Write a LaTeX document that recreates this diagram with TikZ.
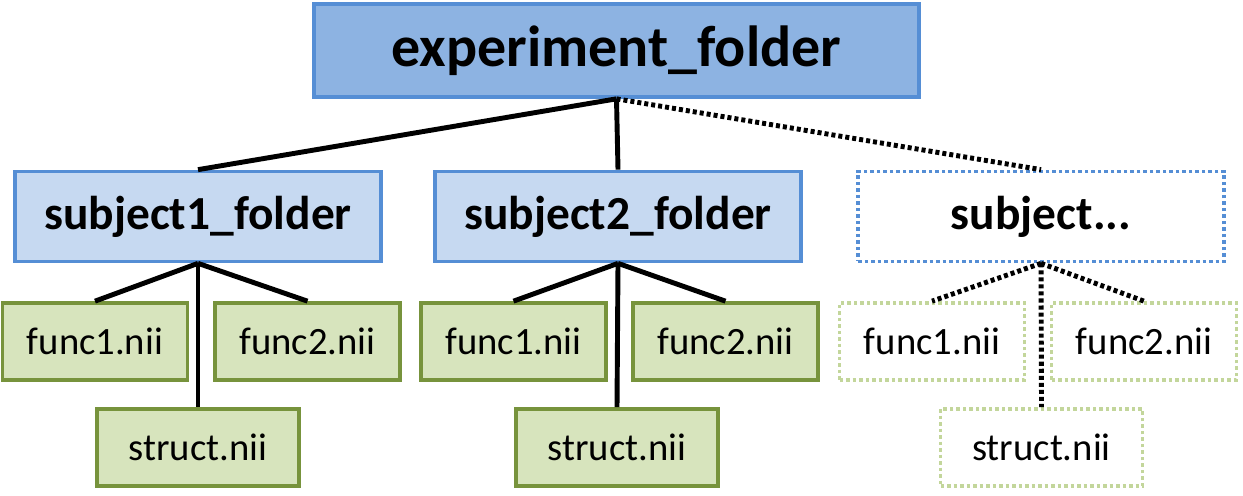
\documentclass[tikz,border=0pt]{standalone}
\usepackage{fontspec}
\setmainfont{Carlito}
\usepackage{tikz}

\definecolor{azulfuerte}{HTML}{8DB3E2}
\definecolor{azulclaro}{HTML}{C6D9F1}
\definecolor{azulborde}{HTML}{558ED5}
\definecolor{verdeclaro}{HTML}{D7E4BD}
\definecolor{verdeborde}{HTML}{77933C}
\definecolor{verdepunto}{HTML}{C3D69B}

\begin{document}
\begin{tikzpicture}[x=0.02cm,y=-0.02cm,
    raiz/.style={draw=azulborde, fill=azulfuerte, line width=2.1pt, minimum width=12.1cm, minimum height=1.86cm, font=\fontsize{33}{36}\selectfont\bfseries},
    sujeto/.style={draw=azulborde, fill=azulclaro, line width=2.1pt, minimum width=7.32cm, minimum height=1.8cm, font=\fontsize{27}{30}\selectfont\bfseries},
    sujetovacio/.style={draw=azulborde, line width=2.1pt, dash pattern=on 2pt off 1.7pt, minimum width=7.32cm, minimum height=1.8cm, font=\fontsize{27}{30}\selectfont\bfseries},
    archivo/.style={draw=verdeborde, fill=verdeclaro, line width=2.1pt, minimum width=3.7cm, minimum height=1.54cm, font=\fontsize{22}{26}\selectfont},
    archivovacio/.style={draw=verdepunto, line width=2.1pt, dash pattern=on 2pt off 1.7pt, minimum width=3.7cm, minimum height=1.54cm, font=\fontsize{22}{26}\selectfont},
    rama/.style={line width=2.8pt},
    ramapunto/.style={line width=2.8pt, dash pattern=on 2.3pt off 1.7pt}]
  \useasboundingbox (0,0) rectangle (1243,496);

  % Carpeta principal
  \node[raiz] (exp) at (616.5,50.5) {experiment\_folder};

  % Carpetas de sujetos
  \node[sujeto] (s1) at (198,216.5) {subject1\_folder};
  \node[sujeto] (s2) at (618,216.5) {subject2\_folder};
  \node[sujetovacio] (s3) at (1041,216.5) {subject...};

  % Archivos de cada sujeto
  \node[archivo] (s1f1) at (95,341.5) {func1.nii};
  \node[archivo] (s1f2) at (307.5,341.5) {func2.nii};
  \node[archivo, minimum width=4.04cm] (s1st) at (198,447.5) {struct.nii};
  \node[archivo] (s2f1) at (513.5,341.5) {func1.nii};
  \node[archivo] (s2f2) at (725.5,341.5) {func2.nii};
  \node[archivo, minimum width=4.04cm] (s2st) at (617,447.5) {struct.nii};
  \node[archivovacio] (s3f1) at (932,341.5) {func1.nii};
  \node[archivovacio] (s3f2) at (1144,341.5) {func2.nii};
  \node[archivovacio, minimum width=4.04cm] (s3st) at (1041.5,447.5) {struct.nii};

  % Ramas
  \draw[rama] (exp.south) -- (s1.north);
  \draw[rama] (exp.south) -- (s2.north);
  \draw[ramapunto] (exp.south) -- (s3.north);
  \foreach \s in {s1,s2} {
    \draw[rama] (\s.south) -- (\s f1.north);
    \draw[rama] (\s.south) -- (\s f2.north);
    \draw[rama] (\s.south) -- (\s st.north);
  }
  \draw[ramapunto] (s3.south) -- (s3f1.north);
  \draw[ramapunto] (s3.south) -- (s3f2.north);
  \draw[ramapunto] (s3.south) -- (s3st.north);
\end{tikzpicture}
\end{document}
